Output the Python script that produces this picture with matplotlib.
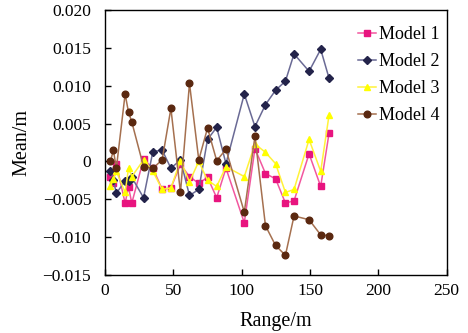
import matplotlib
matplotlib.use("Agg")
import matplotlib.pyplot as plt
from matplotlib.ticker import FuncFormatter

plt.rcParams['font.family'] = ['Liberation Serif', 'DejaVu Serif']

rng = [4.0, 6.1, 8.3, 14.7, 17.2, 19.6, 28.2, 35.0, 41.8, 48.2, 55.2, 61.8, 68.6,
       75.0, 81.7, 88.5, 101.9, 109.7, 117.4, 124.8, 132.0, 138.3, 149.3, 157.8, 163.9]

model1 = [-0.0021, -0.0028, -0.0004, -0.0055, -0.0034, -0.0055, 0.0003, -0.0009,
          -0.0037, -0.0035, -0.0004, -0.0020, -0.0029, -0.0021, -0.0048, -0.0009,
          -0.0081, 0.0017, -0.0016, -0.0023, -0.0055, -0.0052, 0.0010, -0.0033, 0.0037]
model2 = [-0.0012, -0.0025, -0.0042, -0.0026, -0.0026, -0.0021, -0.0048, 0.0013,
          0.0015, -0.0009, 0.0002, -0.0045, -0.0037, 0.0029, 0.0045, -0.0003,
          0.0089, 0.0046, 0.0075, 0.0094, 0.0106, 0.0142, 0.0119, 0.0148, 0.0110]
model3 = [-0.0033, -0.0023, -0.0013, -0.0041, -0.0009, -0.0020, 0.0002, -0.0013,
          -0.0037, -0.0035, 0.0001, -0.0027, 0.0000, -0.0025, -0.0033, -0.0007,
          -0.0020, 0.0023, 0.0012, -0.0003, -0.0041, -0.0037, 0.0029, -0.0013, 0.0061]
model4 = [0.0000, 0.0015, -0.0009, 0.0089, 0.0065, 0.0052, -0.0007, -0.0009,
          0.0002, 0.0070, -0.0041, 0.0103, 0.0002, 0.0044, 0.0001, 0.0016,
          -0.0067, 0.0033, -0.0085, -0.0111, -0.0124, -0.0072, -0.0077, -0.0097, -0.0098]

labels = ['Model 1', 'Model 2', 'Model 3', 'Model 4']
series = [model1, model2, model3, model4]
line_colors = ['#F2579F', '#6A6A95', '#FFF23A', '#A5704F']
marker_colors = ['#E8147F', '#23234A', '#FFFF00', '#5A2810']
markers = ['s', 'D', '^', 'o']
msizes = [4.3, 3.6, 4.8, 4.8]

fig = plt.figure(figsize=(4.68, 3.33), dpi=100)
ax = fig.add_axes([0.2244, 0.1742, 0.7301, 0.7958])

for y, lab, lc, mc, mk, ms in zip(series, labels, line_colors, marker_colors, markers, msizes):
    ax.plot(rng, y, color=lc, lw=1.1, marker=mk, markersize=ms,
            markerfacecolor=mc, markeredgecolor=mc, label=lab)

ax.set_xlim(0, 250)
ax.set_ylim(-0.015, 0.020)
ax.set_xticks([0, 50, 100, 150, 200, 250])
ax.set_yticks([-0.015, -0.010, -0.005, 0, 0.005, 0.010, 0.015, 0.020])

def yfmt(v, pos):
    if abs(v) < 1e-12:
        return '0'
    return ('%.3f' % v).replace('-', '\u2212')

ax.yaxis.set_major_formatter(FuncFormatter(yfmt))
ax.tick_params(direction='in', length=4, width=1, labelsize=12.5)
ax.tick_params(axis='y', pad=10)
ax.tick_params(axis='x', pad=6)
for s in ax.spines.values():
    s.set_linewidth(1.0)

ax.set_xlabel('Range/m', fontsize=14.5, labelpad=9)
ax.set_ylabel('Mean/m', fontsize=14.5, labelpad=8)

leg = ax.legend(loc='upper right', frameon=False, fontsize=13,
                handlelength=1.0, handletextpad=0.15, labelspacing=0.55,
                borderaxespad=0.0, bbox_to_anchor=(1.0, 0.965))

fig.savefig('out.png', dpi=100)
